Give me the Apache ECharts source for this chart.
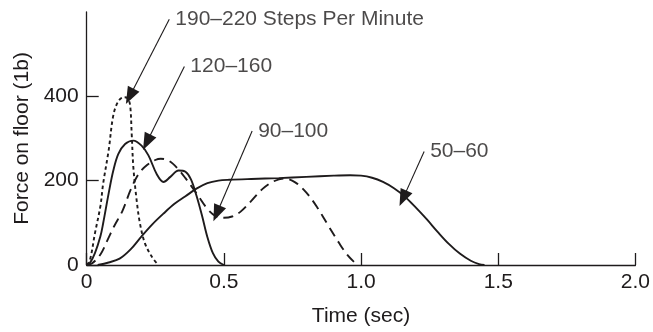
<!DOCTYPE html>
<html>
<head>
<meta charset="utf-8">
<script src="https://cdn.jsdelivr.net/npm/echarts@6/dist/echarts.min.js"></script>
<style>
html, body { margin: 0; padding: 0; background: #ffffff; }
#chart { width: 653px; height: 332px; }
</style>
</head>
<body>
<div id="chart"></div>
<script>
// Axis ticks
const timeTicks = [0, 0.5, 1.0, 1.5, 2.0];
const forceTicks = [0, 200, 400];

// Force on floor (lb) against time (sec), one array per walking/running pace
const pace190to220 = [[0,0],[0.012,12],[0.03,75],[0.05,140],[0.06,193],[0.08,272],[0.097,355],[0.115,388],[0.135,398],[0.148,396],[0.158,380],[0.164,311],[0.17,232],[0.182,154],[0.194,99],[0.212,52],[0.237,20],[0.261,0]];
const pace120to160 = [[0,0],[0.012,5],[0.03,28],[0.05,68],[0.06,99],[0.08,170],[0.097,224],[0.115,263],[0.14,287],[0.17,295],[0.2,283],[0.225,260],[0.255,216],[0.28,197],[0.305,209],[0.335,224],[0.36,221],[0.38,203],[0.40,165],[0.42,118],[0.44,66],[0.46,28],[0.48,8],[0.50,0]];
const pace90to100 = [[0,0],[0.02,4],[0.05,25],[0.08,65],[0.10,92],[0.13,128],[0.16,178],[0.19,217],[0.22,237],[0.25,249],[0.27,252],[0.30,247],[0.33,230],[0.36,206],[0.40,170],[0.44,133],[0.47,116],[0.50,112],[0.53,115],[0.56,126],[0.60,152],[0.64,180],[0.68,198],[0.72,205],[0.76,196],[0.80,172],[0.84,137],[0.88,94],[0.92,52],[0.95,24],[0.98,4],[0.99,0]];
const pace50to60 = [[0.04,0],[0.08,6],[0.12,15],[0.16,37],[0.20,68],[0.24,97],[0.28,122],[0.32,145],[0.36,163],[0.40,181],[0.44,194],[0.48,200],[0.52,202],[0.60,204],[0.70,206],[0.80,209],[0.90,212],[0.96,213],[1.00,212],[1.04,207],[1.08,197],[1.12,182],[1.16,162],[1.20,136],[1.24,108],[1.28,78],[1.32,50],[1.36,27],[1.40,10],[1.43,2],[1.45,0]];

// Callout labels with the start of each leader line and the point it aims at
const calloutText = ['190\u2013220 Steps Per Minute', '120\u2013160', '90\u2013100', '50\u201360'];
const calloutFrom = [[0.301,583],[0.356,471],[0.603,318],[1.230,269]];
const calloutTo = [[0.157,400],[0.219,291],[0.474,122],[1.153,158]];

const ink = '#1e1b1c';
const font = 'Liberation Sans, Arial, Helvetica, sans-serif';
const fontSize = 21;

function curve(name, data, type, dash) {
  return {
    name: name,
    type: 'line',
    data: data,
    smooth: 0.35,
    showSymbol: false,
    symbol: 'none',
    silent: true,
    lineStyle: { color: ink, width: 1.9, type: type === 'solid' ? 'solid' : dash }
  };
}

const chart = echarts.init(document.getElementById('chart'), null, { renderer: 'canvas' });
chart.setOption({
  animation: false,
  backgroundColor: '#ffffff',
  grid: { left: 86.7, right: 17.3, top: 12, bottom: 65, containLabel: false },
  xAxis: {
    type: 'value',
    min: 0, max: 2.0, interval: 0.5,
    name: 'Time (sec)',
    nameLocation: 'middle',
    nameGap: 41,
    nameTextStyle: { color: ink, fontSize: fontSize, fontFamily: font },
    axisLine: { show: true, onZero: false, lineStyle: { color: ink, width: 1.3 } },
    axisTick: { show: true, inside: true, length: 12, customValues: timeTicks, lineStyle: { color: ink, width: 1.3 } },
    axisLabel: {
      color: ink, fontSize: fontSize, fontFamily: font, margin: 7,
      customValues: timeTicks,
      formatter: v => (v === 0 ? '0' : v.toFixed(1))
    },
    splitLine: { show: false }
  },
  yAxis: {
    type: 'value',
    min: 0, max: 600, interval: 200,
    name: 'Force on floor (1b)',
    nameLocation: 'middle',
    nameGap: 53,
    nameTextStyle: { color: ink, fontSize: fontSize, fontFamily: font },
    axisLine: { show: true, onZero: false, lineStyle: { color: ink, width: 1.3 } },
    axisTick: { show: true, inside: true, length: 12, customValues: forceTicks, lineStyle: { color: ink, width: 1.3 } },
    axisLabel: {
      color: ink, fontSize: fontSize, fontFamily: font, margin: 8,
      customValues: forceTicks,
      formatter: v => String(v)
    },
    splitLine: { show: false }
  },
  series: [
    curve('190\u2013220', pace190to220, 'dotted', [3.5, 3]),
    curve('120\u2013160', pace120to160, 'solid'),
    curve('90\u2013100', pace90to100, 'dashed', [10, 6]),
    curve('50\u201360', pace50to60, 'solid'),
    {
      name: 'callouts',
      type: 'scatter',
      silent: true,
      symbolSize: 0,
      data: calloutFrom.map((p, i) => ({ name: calloutText[i], value: p })),
      label: {
        show: true,
        position: 'right',
        distance: 6,
        formatter: p => p.name,
        color: ink,
        fontSize: fontSize,
        fontFamily: font
      },
      markLine: {
        silent: true,
        animation: false,
        label: { show: false },
        lineStyle: { color: ink, width: 1.1, type: 'solid' },
        data: calloutFrom.map((p, i) => [
          { coord: p, symbol: 'none' },
          { coord: calloutTo[i], symbol: 'triangle', symbolSize: [13, 17] }
        ])
      }
    }
  ]
});
</script>
</body>
</html>
